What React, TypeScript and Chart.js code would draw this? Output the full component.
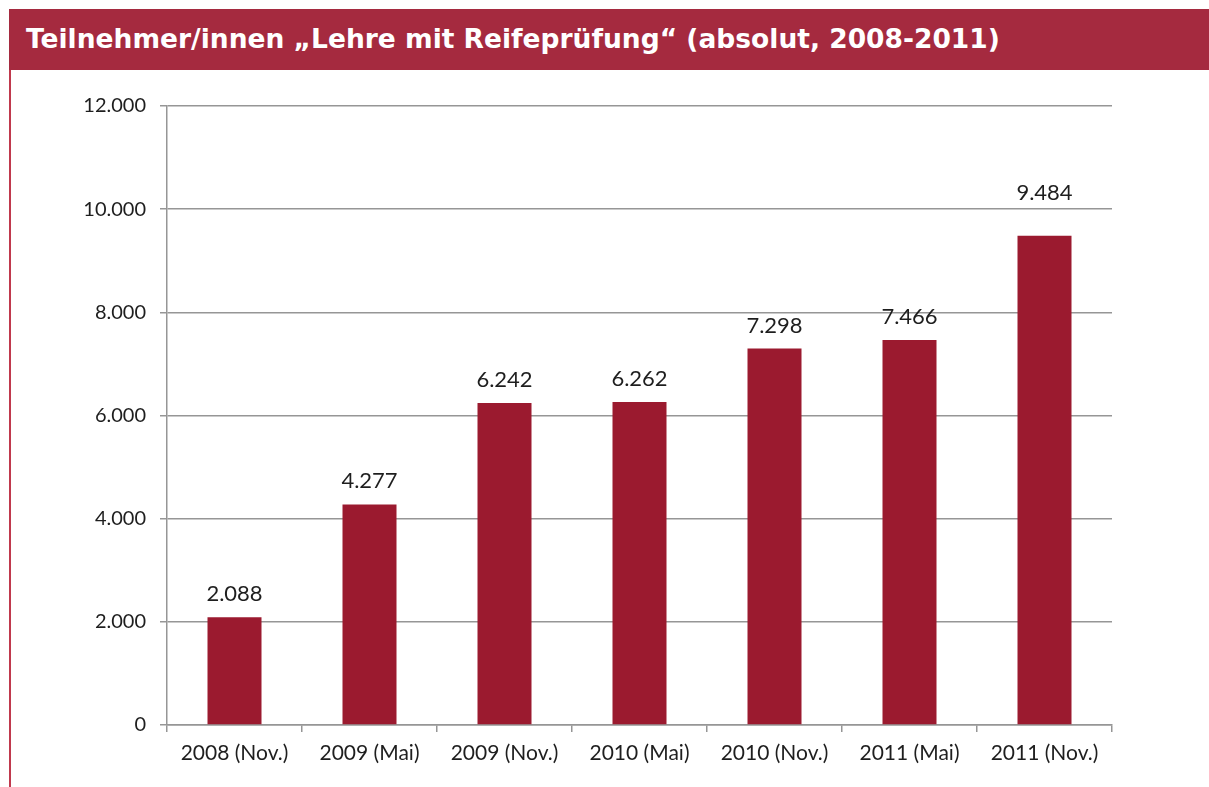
import React, { useEffect, useRef } from "react";
import { Chart, registerables } from "chart.js";

Chart.register(...registerables);

const TITLE = "Teilnehmer/innen „Lehre mit Reifeprüfung“ (absolut, 2008-2011)";
const categories = [
  "2008 (Nov.)",
  "2009 (Mai)",
  "2009 (Nov.)",
  "2010 (Mai)",
  "2010 (Nov.)",
  "2011 (Mai)",
  "2011 (Nov.)",
];
const values = [2088, 4277, 6242, 6262, 7298, 7466, 9484];
const yTicks = [0, 2000, 4000, 6000, 8000, 10000, 12000];

const fmt = (v: number) =>
  v.toLocaleString("de-DE", { maximumFractionDigits: 0 });

const BAR_COLOR = "#9b1a2f";
const GRID = "#969696";
const TEXT = "#1e1e1e";
const FONT = "Lato, 'Open Sans', sans-serif";

const valueLabels = {
  id: "valueLabels",
  afterDatasetsDraw(chart: any) {
    const { ctx } = chart;
    const meta = chart.getDatasetMeta(0);
    ctx.save();
    ctx.font = `22px ${FONT}`;
    ctx.fillStyle = TEXT;
    ctx.textAlign = "center";
    ctx.textBaseline = "bottom";
    meta.data.forEach((bar: any, i: number) => {
      const v = values[i];
      // Last label is lifted above the 10.000 gridline in the original
      const extra = i === values.length - 1 ? 20 : 0;
      ctx.fillText(fmt(v), bar.x, bar.y - 12 - extra);
    });
    ctx.restore();
  },
};

export default function App() {
  const ref = useRef<HTMLCanvasElement | null>(null);

  useEffect(() => {
    document.body.style.margin = "0";
    const canvas = ref.current;
    if (!canvas) return;
    const chart = new Chart(canvas, {
      type: "bar",
      data: {
        labels: categories,
        datasets: [
          {
            data: values,
            backgroundColor: BAR_COLOR,
            borderWidth: 0,
            categoryPercentage: 1,
            barPercentage: 0.4,
          },
        ],
      },
      options: {
        animation: false,
        responsive: false,
        maintainAspectRatio: false,
        layout: { padding: { top: 36, right: 97, left: 0, bottom: 0 } },
        plugins: {
          legend: { display: false },
          title: { display: false },
          tooltip: { enabled: false },
        },
        scales: {
          x: {
            offset: true,
            grid: {
              offset: true,
              drawOnChartArea: false,
              drawTicks: true,
              tickLength: 7,
              color: GRID,
              lineWidth: 1.5,
            },
            border: { color: GRID, width: 1.5 },
            ticks: {
              color: TEXT,
              font: { family: FONT, size: 21 },
              padding: 9,
              maxRotation: 0,
              autoSkip: false,
            },
            afterFit(scale: any) {
              scale.height = 62;
            },
          },
          y: {
            min: 0,
            max: 12000,
            afterBuildTicks(scale: any) {
              scale.ticks = yTicks.map((v) => ({ value: v }));
            },
            grid: {
              color: GRID,
              lineWidth: 1.5,
              tickLength: 7,
            },
            border: { color: GRID, width: 1.5 },
            ticks: {
              color: TEXT,
              font: { family: FONT, size: 20 },
              padding: 14,
              callback: (v: any) => fmt(Number(v)),
            },
            afterFit(scale: any) {
              scale.width = 167;
            },
          },
        },
      },
      plugins: [valueLabels],
    });
    return () => chart.destroy();
  }, []);

  return (
    <div
      style={{
        position: "fixed",
        left: 0,
        top: 0,
        width: 1209,
        height: 787,
        background: "#ffffff",
        overflow: "hidden",
      }}
    >
      <div
        style={{
          position: "absolute",
          left: 9,
          top: 9,
          width: 1200,
          height: 61,
          background: "#a52a3f",
          color: "#ffffff",
          fontFamily: "'DejaVu Sans', Verdana, sans-serif",
          fontWeight: "bold",
          fontSize: 26.5,
          lineHeight: "59px",
          paddingLeft: 17,
          boxSizing: "border-box",
          whiteSpace: "nowrap",
        }}
      >
        {TITLE}
      </div>
      <div
        style={{
          position: "absolute",
          left: 9,
          top: 70,
          width: 2,
          height: 717,
          background: "#c0394d",
        }}
      />
      <canvas
        ref={ref}
        width={1209}
        height={717}
        style={{ position: "absolute", left: 0, top: 70, width: 1209, height: 717 }}
      />
    </div>
  );
}
